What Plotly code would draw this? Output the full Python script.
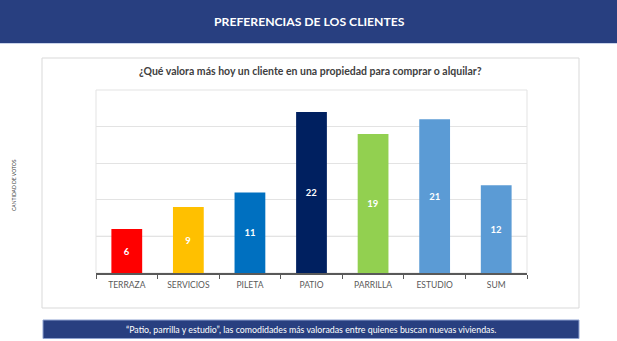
import plotly.graph_objects as go

categories = ["TERRAZA", "SERVICIOS", "PILETA", "PATIO", "PARRILLA", "ESTUDIO", "SUM"]
values = [6, 9, 11, 22, 19, 21, 12]
bar_colors = ["#FF0000", "#FFC000", "#0070C0", "#002060", "#92D050", "#5B9BD5", "#5B9BD5"]
y_ticks = [0, 5, 10, 15, 20, 25]

title_text = "PREFERENCIAS DE LOS CLIENTES"
subtitle_text = "¿Qué valora más hoy un cliente en una propiedad para comprar o alquilar?"
footer_text = "“Patio, parrilla y estudio”, las comodidades más valoradas entre quienes buscan nuevas viviendas."
side_text = "CANTIDAD DE VOTOS"

FONT = "Lato, sans-serif"

W, H = 617, 341
L, R, T, B = 96, 527, 90, 273  # plot area in pixels
pw, ph = R - L, B - T


def px(x):
    return (x - L) / pw


def py(y):
    return (B - y) / ph


fig = go.Figure()
fig.add_trace(go.Bar(
    x=categories, y=values,
    marker=dict(color=bar_colors, line=dict(width=0)),
    width=0.5,
    text=[str(v) for v in values],
    textposition="inside", insidetextanchor="middle",
    textfont=dict(family=FONT, size=9.5, color="white", weight="bold"),
    textangle=0,
    hoverinfo="x+y",
))

shapes = [
    # header band
    dict(type="rect", xref="paper", yref="paper", x0=px(0), x1=px(W), y0=py(43), y1=py(0),
         fillcolor="#283F80", line=dict(width=0), layer="below"),
    dict(type="line", xref="paper", yref="paper", x0=px(0), x1=px(W), y0=py(43.5), y1=py(43.5),
         line=dict(color="#C9D3EA", width=1)),
    # outer frame
    dict(type="rect", xref="paper", yref="paper", x0=px(42), x1=px(579), y0=py(308), y1=py(58),
         fillcolor="rgba(0,0,0,0)", line=dict(color="#D9D9D9", width=1), layer="below"),
    # footer band
    dict(type="rect", xref="paper", yref="paper", x0=px(43), x1=px(579), y0=py(338.5), y1=py(320),
         fillcolor="#283F80", line=dict(color="#8EA2D0", width=1), layer="below"),
    # darker gridline at first tick
    dict(type="line", xref="paper", yref="y", x0=0, x1=1, y0=y_ticks[1], y1=y_ticks[1],
         line=dict(color="#A6A6A6", width=1), layer="below"),
    # plot area border
    dict(type="rect", xref="paper", yref="paper", x0=0, x1=1, y0=0, y1=1,
         line=dict(color="#E3E3E3", width=1), layer="below"),
]

annotations = [
    dict(text=f"<b>{title_text}</b>", xref="paper", yref="paper", x=px(309), y=py(21.5),
         showarrow=False, font=dict(family=FONT, size=12.2, color="white"),
         xanchor="center", yanchor="middle"),
    dict(text=f"<b>{subtitle_text}</b>", xref="paper", yref="paper", x=px(310), y=py(70.5),
         showarrow=False, font=dict(family=FONT, size=10.5, color="#404040"),
         xanchor="center", yanchor="middle"),
    dict(text=footer_text, xref="paper", yref="paper", x=px(311), y=py(329.5),
         showarrow=False, font=dict(family=FONT, size=8.8, color="white"),
         xanchor="center", yanchor="middle"),
    dict(text=side_text, xref="paper", yref="paper", x=px(14), y=py(185),
         showarrow=False, textangle=-90, font=dict(family=FONT, size=5, color="#404040"),
         xanchor="center", yanchor="middle"),
]

fig.update_layout(
    width=W, height=H,
    margin=dict(l=L, r=W - R, t=T, b=H - B, pad=0),
    paper_bgcolor="white", plot_bgcolor="white",
    showlegend=False,
    shapes=shapes, annotations=annotations,
    xaxis=dict(
        showgrid=False, showline=True, linecolor="#595959", linewidth=1.5,
        ticks="outside", tickson="boundaries", ticklen=4, tickcolor="#595959",
        tickfont=dict(family=FONT, size=8.5, color="#595959"),
        ticklabelstandoff=3,
        fixedrange=True,
    ),
    yaxis=dict(
        range=[0, 25], tickvals=y_ticks, showticklabels=False,
        showgrid=True, gridcolor="#E3E3E3", gridwidth=1,
        zeroline=False, showline=False,
        ticks="", fixedrange=True,
    ),
)

fig.write_html("out.html")
